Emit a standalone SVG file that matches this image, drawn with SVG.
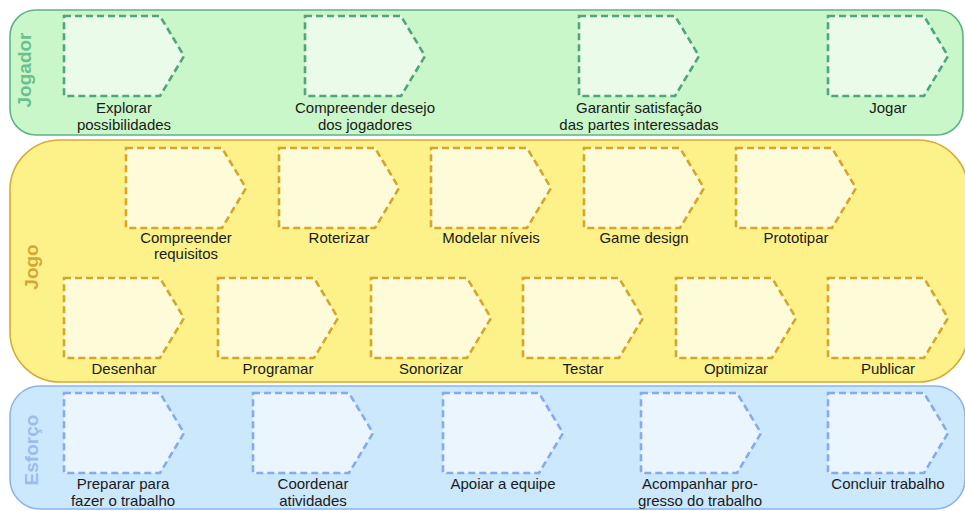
<svg xmlns="http://www.w3.org/2000/svg" width="965" height="511" viewBox="0 0 965 511">
<style>
.lbl{font-family:"Liberation Sans",Arial,sans-serif;font-size:15px;fill:#1a1a1a;text-anchor:middle}
.lane{font-family:"Liberation Sans",Arial,sans-serif;font-size:19px;font-weight:bold;text-anchor:middle}
.ng{fill:#eafbea;stroke:#4ea679;stroke-width:2.6;stroke-dasharray:7 4}
.ny{fill:#fefbd8;stroke:#d6a52a;stroke-width:2.6;stroke-dasharray:7 4}
.nb{fill:#eaf5fe;stroke:#86a9f0;stroke-width:2.6;stroke-dasharray:7 4}
</style>
<defs>
<path id="arr" d="M0,0 H96 L120,40 L96,80 H0 Z"/>
</defs>
<g id="lane-jogador">
<rect x="10" y="10" width="953" height="125" rx="26" ry="26" fill="#c9f7ca" stroke="#5fb386" stroke-width="1.6"/>
<text class="lane" transform="translate(31,70) rotate(-90)" fill="#6cbf8e">Jogador</text>
</g>
<g id="lane-jogo">
<rect x="10" y="140" width="958" height="242" rx="50" ry="50" fill="#fdf28a" stroke="#d8ab33" stroke-width="1.6"/>
<text class="lane" transform="translate(38,267) rotate(-90)" fill="#d6a732">Jogo</text>
</g>
<g id="lane-esforco">
<rect x="10" y="386" width="955" height="123" rx="30" ry="30" fill="#cbe8fc" stroke="#8cb3ef" stroke-width="1.6"/>
<text class="lane" transform="translate(38,450) rotate(-90)" fill="#9cbbf1">Esforço</text>
</g>
<g id="connectors"></g>
<g id="n-explorar"><use href="#arr" x="64" y="16" class="ng"/><text class="lbl" x="124" y="113">Explorar</text><text class="lbl" x="124" y="130">possibilidades</text></g>
<g id="n-compreender-desejo"><use href="#arr" x="305" y="16" class="ng"/><text class="lbl" x="365" y="113">Compreender desejo</text><text class="lbl" x="365" y="130">dos jogadores</text></g>
<g id="n-garantir"><use href="#arr" x="579" y="16" class="ng"/><text class="lbl" x="639" y="113">Garantir satisfação</text><text class="lbl" x="639" y="130">das partes interessadas</text></g>
<g id="n-jogar"><use href="#arr" x="828" y="16" class="ng"/><text class="lbl" x="888" y="113">Jogar</text></g>
<g id="n-compreender-req"><use href="#arr" x="126" y="148" class="ny"/><text class="lbl" x="186" y="243">Compreender</text><text class="lbl" x="186" y="259">requisitos</text></g>
<g id="n-roterizar"><use href="#arr" x="279" y="148" class="ny"/><text class="lbl" x="339" y="243">Roterizar</text></g>
<g id="n-modelar"><use href="#arr" x="431" y="148" class="ny"/><text class="lbl" x="491" y="243">Modelar níveis</text></g>
<g id="n-game-design"><use href="#arr" x="584" y="148" class="ny"/><text class="lbl" x="644" y="243">Game design</text></g>
<g id="n-prototipar"><use href="#arr" x="736" y="148" class="ny"/><text class="lbl" x="796" y="243">Prototipar</text></g>
<g id="n-desenhar"><use href="#arr" x="64" y="278" class="ny"/><text class="lbl" x="124" y="374">Desenhar</text></g>
<g id="n-programar"><use href="#arr" x="218" y="278" class="ny"/><text class="lbl" x="278" y="374">Programar</text></g>
<g id="n-sonorizar"><use href="#arr" x="371" y="278" class="ny"/><text class="lbl" x="431" y="374">Sonorizar</text></g>
<g id="n-testar"><use href="#arr" x="523" y="278" class="ny"/><text class="lbl" x="583" y="374">Testar</text></g>
<g id="n-optimizar"><use href="#arr" x="676" y="278" class="ny"/><text class="lbl" x="736" y="374">Optimizar</text></g>
<g id="n-publicar"><use href="#arr" x="828" y="278" class="ny"/><text class="lbl" x="888" y="374">Publicar</text></g>
<g id="n-preparar"><use href="#arr" x="64" y="393" class="nb"/><text class="lbl" x="123" y="489">Preparar para</text><text class="lbl" x="123" y="506">fazer o trabalho</text></g>
<g id="n-coordenar"><use href="#arr" x="253" y="393" class="nb"/><text class="lbl" x="313" y="489">Coordenar</text><text class="lbl" x="313" y="506">atividades</text></g>
<g id="n-apoiar"><use href="#arr" x="443" y="393" class="nb"/><text class="lbl" x="503" y="489">Apoiar a equipe</text></g>
<g id="n-acompanhar"><use href="#arr" x="641" y="393" class="nb"/><text class="lbl" x="700" y="489">Acompanhar pro-</text><text class="lbl" x="700" y="506">gresso do trabalho</text></g>
<g id="n-concluir"><use href="#arr" x="828" y="393" class="nb"/><text class="lbl" x="888" y="489">Concluir trabalho</text></g>
</svg>
